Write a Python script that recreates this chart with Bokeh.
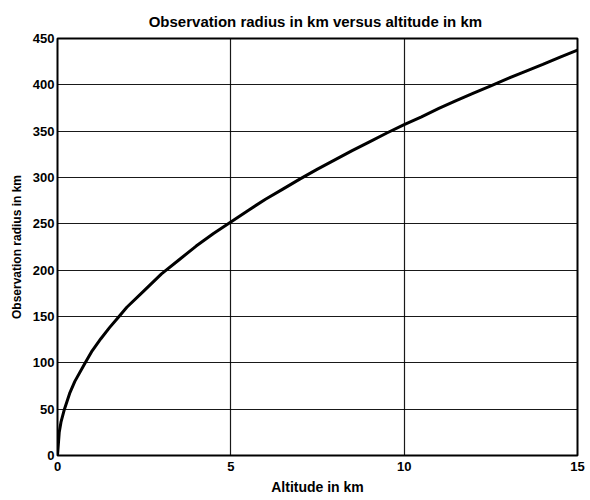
from bokeh.plotting import figure
from bokeh.embed import file_html
from bokeh.resources import INLINE
from bokeh.models import FixedTicker, Range1d

# Data
altitude_km = [0, 0.05, 0.1, 0.2, 0.35, 0.5, 0.8, 1.0, 1.25, 1.5, 1.75, 2.0, 2.5, 3.0, 3.5,
               4.0, 4.5, 5.0, 5.5, 6.0, 6.5, 7.0, 7.5, 8.0, 8.5, 9.0, 9.5, 10.0, 10.5,
               11.0, 11.5, 12.0, 12.5, 13.0, 13.5, 14.0, 14.5, 15.0]
radius_km = [0, 25, 36, 50, 67, 80, 100, 113, 126, 138, 149, 160, 178, 196, 211,
             226, 239.5, 252, 264.5, 276.5, 287.5, 298.5, 309, 319, 329, 338.5, 348, 357, 365.5,
             374.5, 383, 391, 399, 407, 414.5, 422, 430, 437.5]
x_ticks = [0, 5, 10, 15]
y_ticks = [0, 50, 100, 150, 200, 250, 300, 350, 400, 450]

FONT = "Liberation Sans"

p = figure(width=586, height=497, output_backend="svg", toolbar_location=None,
           x_range=Range1d(0, 15), y_range=Range1d(0, 450),
           title="Observation radius in km  versus altitude in km",
           min_border_left=57, min_border_right=9, min_border_top=38, min_border_bottom=42)

p.title.align = "center"
p.title.text_font = FONT
p.title.text_font_size = "15px"
p.title.text_font_style = "bold"
p.title.text_color = "black"
p.title.offset = 12
p.title.standoff = 17

p.line(altitude_km, radius_km, line_color="black", line_width=3)

for ax, ticks in ((p.xaxis, x_ticks), (p.yaxis, y_ticks)):
    ax.ticker = FixedTicker(ticks=ticks)
    ax.axis_line_color = None
    ax.major_tick_line_color = None
    ax.minor_tick_line_color = None
    ax.major_tick_out = 0
    ax.major_tick_in = 0
    ax.minor_tick_out = 0
    ax.minor_tick_in = 0
    ax.major_label_text_font = FONT
    ax.major_label_text_font_size = "13px"
    ax.major_label_text_font_style = "bold"
    ax.major_label_text_color = "black"
    ax.axis_label_text_font = FONT
    ax.axis_label_text_font_style = "bold"
    ax.axis_label_text_color = "black"

p.xaxis.axis_label = "Altitude in km"
p.yaxis.axis_label = "Observation radius in km"
p.xaxis.axis_label_text_font_size = "14px"
p.yaxis.axis_label_text_font_size = "12px"
p.xaxis.major_label_standoff = 6
p.yaxis.major_label_standoff = 3
p.xaxis.axis_label_standoff = 5
p.yaxis.axis_label_standoff = 6

p.grid.grid_line_color = "black"
p.grid.grid_line_width = 1.2
p.grid.grid_line_alpha = 0.9

p.outline_line_color = "black"
p.outline_line_width = 2
p.outline_line_alpha = 1
p.background_fill_color = "white"
p.border_fill_color = "white"

open("out.html", "w").write(file_html(p, INLINE))
